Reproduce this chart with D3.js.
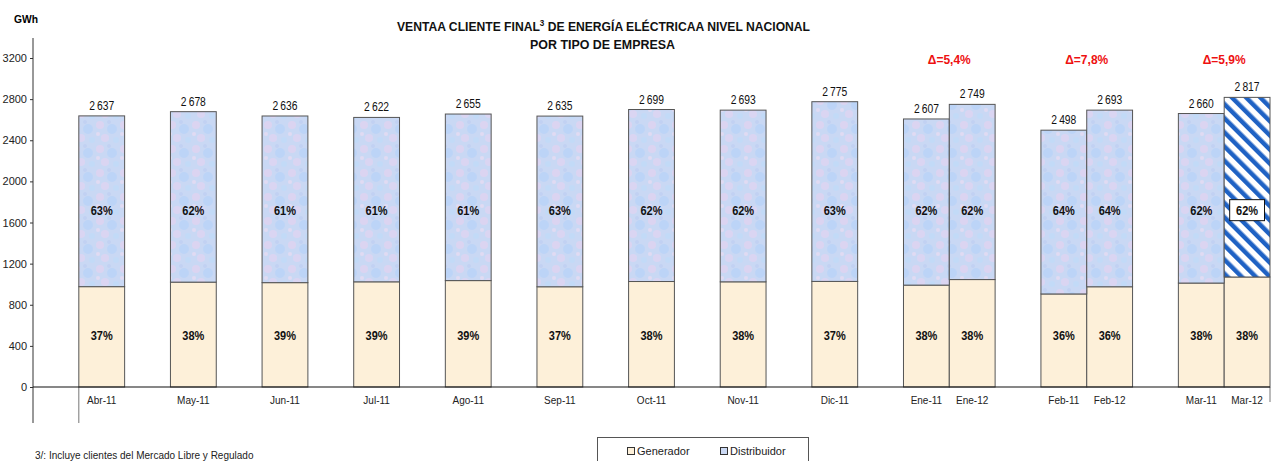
<!DOCTYPE html>
<html><head><meta charset="utf-8">
<script src="https://cdn.jsdelivr.net/npm/d3@7"></script>
<style>
body{margin:0;background:#fff;}
svg{display:block;font-family:"Liberation Sans Narrow","Arial Narrow","Liberation Sans",Arial,sans-serif;}
</style></head><body>
<svg id="c" width="1274" height="461"></svg>
<script>
// ---- data ----
const groups = [["Abr-11"],["May-11"],["Jun-11"],["Jul-11"],["Ago-11"],["Sep-11"],["Oct-11"],["Nov-11"],["Dic-11"],["Ene-11","Ene-12"],["Feb-11","Feb-12"],["Mar-11","Mar-12"]];
const categories = ["Abr-11","May-11","Jun-11","Jul-11","Ago-11","Sep-11","Oct-11","Nov-11","Dic-11","Ene-11","Ene-12","Feb-11","Feb-12","Mar-11","Mar-12"];
const totals    = [2637,2678,2636,2622,2655,2635,2699,2693,2775,2607,2749,2498,2693,2660,2817];
const generador = [976,1020,1015,1023,1035,975,1026,1023,1027,991,1045,905,975,1011,1070];
const genPct  = ["37%","38%","39%","39%","39%","37%","38%","38%","37%","38%","38%","36%","36%","38%","38%"];
const distPct = ["63%","62%","61%","61%","61%","63%","62%","62%","63%","62%","62%","64%","64%","62%","62%"];
const deltas = [{group:"Ene", label:"Δ=5,4%"},{group:"Feb", label:"Δ=7,8%"},{group:"Mar", label:"Δ=5,9%"}];
const yTicks = [0,400,800,1200,1600,2000,2400,2800,3200];
const seriesNames = ["Generador","Distribuidor"];
const distribuidor = totals.map((t,i)=>t-generador[i]);

// ---- layout ----
const svg = d3.select("#c");
const x0 = 33, x1 = 1270, yBase = 387, yTop = 58;
const slots = [];
groups.forEach((g,gi)=>{ slots.push("gap"+gi); g.forEach(c=>slots.push(c)); });
const x = d3.scaleBand().domain(slots).range([x0,x1]).padding(0);
const y = d3.scaleLinear().domain([0,3200]).range([yBase,yTop]);

const defs = svg.append("defs");
// textured light blue fill
const pat = defs.append("pattern").attr("id","tex").attr("patternUnits","userSpaceOnUse").attr("width",24).attr("height",24);
pat.append("rect").attr("width",24).attr("height",24).attr("fill","#c9d8f4");
[[4,5,4,"#e0d3f0"],[16,9,5,"#b9d3f7"],[9,18,4,"#ded4f1"],[20,20,3,"#c0dbf7"],[2,14,2,"#e6dcf2"],[13,2,2,"#bfd0f2"]].forEach(d=>{
  pat.append("circle").attr("cx",d[0]).attr("cy",d[1]).attr("r",d[2]).attr("fill",d[3]).attr("opacity",0.8);
});
// diagonal stripes
const sp = defs.append("pattern").attr("id","stripes").attr("patternUnits","userSpaceOnUse")
  .attr("width",10).attr("height",10).attr("patternTransform","rotate(-45)");
sp.append("rect").attr("width",10).attr("height",10).attr("fill","#fff");
sp.append("rect").attr("x",0).attr("width",4.5).attr("height",10).attr("fill","#1f62c4");

// title
const title = svg.append("text").attr("x",603.5).attr("y",31).attr("text-anchor","middle")
  .attr("font-weight","bold").attr("font-size",13.5).attr("fill","#111")
  .attr("textLength",413).attr("lengthAdjust","spacingAndGlyphs");
title.append("tspan").text("VENTAA CLIENTE FINAL");
title.append("tspan").attr("font-size",9).attr("dy",-5).text("3");
title.append("tspan").attr("dy",5).text(" DE ENERGÍA ELÉCTRICAA NIVEL NACIONAL");
svg.append("text").attr("x",602.5).attr("y",49).attr("text-anchor","middle")
  .attr("font-weight","bold").attr("font-size",13.5).attr("fill","#111")
  .attr("textLength",145).attr("lengthAdjust","spacingAndGlyphs").text("POR TIPO DE EMPRESA");

svg.append("text").attr("x",14).attr("y",23).attr("font-weight","bold").attr("font-size",11)
  .attr("textLength",24).attr("lengthAdjust","spacingAndGlyphs").text("GWh");

// y axis
const ya = svg.append("g").attr("transform",`translate(${x0},0)`)
  .call(d3.axisLeft(y).tickValues(yTicks).tickSize(3).tickPadding(3).tickFormat(d3.format("d")));
ya.select(".domain").remove();
ya.selectAll("text").attr("font-size",11).attr("fill","#222");
ya.selectAll("line").attr("stroke","#333");
svg.append("line").attr("x1",x0).attr("x2",x0).attr("y1",38).attr("y2",423).attr("stroke","#333");
svg.append("line").attr("x1",x.range()[0]+x.bandwidth()).attr("x2",x.range()[0]+x.bandwidth()).attr("y1",yBase).attr("y2",423).attr("stroke","#777");
svg.append("line").attr("x1",x1).attr("x2",x1).attr("y1",yBase).attr("y2",402).attr("stroke","#777");

// bars
const data = categories.map((c,i)=>({c,i,total:totals[i],gen:generador[i],dist:distribuidor[i]}));
const g = svg.append("g");
g.selectAll("rect.gen").data(data).join("rect").attr("class","gen")
  .attr("x",d=>x(d.c)).attr("width",x.bandwidth())
  .attr("y",d=>y(d.gen)).attr("height",d=>y(0)-y(d.gen))
  .attr("fill","#fdf0d9").attr("stroke","#555").attr("stroke-width",1);
g.selectAll("rect.dist").data(data).join("rect").attr("class","dist")
  .attr("x",d=>x(d.c)).attr("width",x.bandwidth())
  .attr("y",d=>y(d.total)).attr("height",d=>y(d.gen)-y(d.total))
  .attr("fill",d=>d.i===categories.length-1?"url(#stripes)":"url(#tex)")
  .attr("stroke","#555").attr("stroke-width",1);

// baseline
svg.append("line").attr("x1",x0).attr("x2",x1).attr("y1",yBase).attr("y2",yBase).attr("stroke","#111").attr("stroke-width",1.2);

const lab = svg.append("g");
// total labels
lab.selectAll("text.tot").data(data).join("text").attr("class","tot")
  .attr("x",d=>x(d.c)+x.bandwidth()/2).attr("y",d=>y(d.total)-6)
  .attr("text-anchor","middle").attr("font-size",12.5).attr("fill","#111")
  .attr("textLength",25).attr("lengthAdjust","spacingAndGlyphs")
  .text(d=>d3.format(",")(d.total).replace(",","\u2009"));

// white box behind last distributor label
const lb = data[categories.length-1];
lab.append("rect").attr("x",x(lb.c)+5.5).attr("y",y(1720)-10.5).attr("width",x.bandwidth()-11).attr("height",21)
  .attr("fill","#fff").attr("stroke","#111");
lab.selectAll("text.dp").data(data).join("text").attr("class","dp")
  .attr("x",d=>x(d.c)+x.bandwidth()/2).attr("y",y(1720)).attr("dy","0.35em")
  .attr("text-anchor","middle").attr("font-size",12.5).attr("font-weight","bold").attr("fill","#111")
  .attr("textLength",22).attr("lengthAdjust","spacingAndGlyphs")
  .text(d=>distPct[d.i]);
lab.selectAll("text.gp").data(data).join("text").attr("class","gp")
  .attr("x",d=>x(d.c)+x.bandwidth()/2).attr("y",y(500)).attr("dy","0.35em")
  .attr("text-anchor","middle").attr("font-size",12.5).attr("font-weight","bold").attr("fill","#111")
  .attr("textLength",22).attr("lengthAdjust","spacingAndGlyphs")
  .text(d=>genPct[d.i]);

// x labels
lab.selectAll("text.xl").data(data).join("text").attr("class","xl")
  .attr("x",d=>x(d.c)+x.bandwidth()/2).attr("y",404)
  .attr("text-anchor","middle").attr("font-size",10).attr("fill","#222")
  .text(d=>d.c);

// deltas
deltas.forEach(dl=>{
  const a = categories.find(c=>c.startsWith(dl.group));
  svg.append("text").attr("x",x(a)+x.bandwidth()).attr("y",64).attr("text-anchor","middle")
    .attr("font-size",13.5).attr("font-weight","bold").attr("fill","#ee1111")
    .attr("textLength",43).attr("lengthAdjust","spacingAndGlyphs").text(dl.label);
});

// legend
svg.append("rect").attr("x",597.5).attr("y",437.5).attr("width",211).attr("height",30).attr("fill","#fff").attr("stroke","#555");
const legFills = ["#fdf0d9","#cbd9f4"];
const legX = [627,720];
seriesNames.forEach((n,i)=>{
  svg.append("rect").attr("x",legX[i]+0.5).attr("y",447.5).attr("width",7).attr("height",7).attr("fill",legFills[i]).attr("stroke","#333");
  svg.append("text").attr("x",legX[i]+10).attr("y",455).attr("font-size",11).attr("fill","#222").text(n);
});

// footnote
svg.append("text").attr("x",35).attr("y",459).attr("font-size",10).attr("fill","#222").text("3/: Incluye clientes del Mercado Libre y Regulado");
</script>
</body></html>
